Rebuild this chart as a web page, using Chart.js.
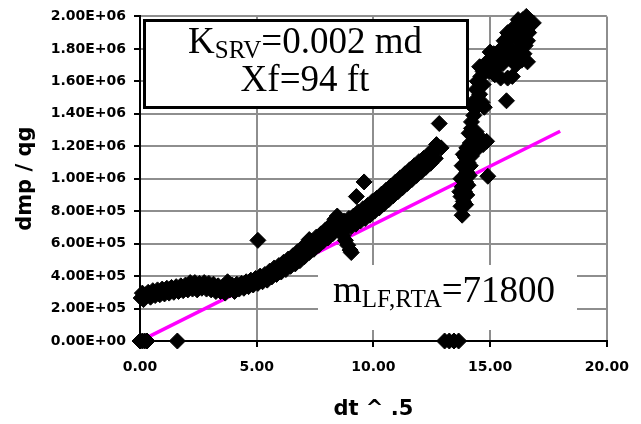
<!DOCTYPE html>
<html>
<head>
<meta charset="utf-8">
<script src="https://cdn.jsdelivr.net/npm/chart.js@4.4.1/dist/chart.umd.min.js"></script>
<style>
  html, body { margin: 0; padding: 0; background: #fff; }
  #wrap { width: 641px; height: 424px; }
</style>
</head>
<body>
<div id="wrap"><canvas id="plot" width="641" height="424"></canvas></div>
<script>
// main band of the data (dt^.5 vs dmp/qg)
var bandX = [0.05,0.1,0.15,0.25,0.35,0.45,0.55,0.65,0.75,0.85,0.95,1.05,1.15,1.25,1.35,1.45,1.55,1.65,1.75,1.85,1.95,2.05,2.15,2.25,2.35,2.45,2.55,2.65,2.75,2.85,2.95,3.05,3.15,3.25,3.35,3.45,3.55,3.65,3.75,3.85,3.95,4.05,4.15,4.25,4.35,4.45,4.55,4.65,4.75,4.85,4.95,5.05,
  5.15,5.25,5.35,5.45,5.55,5.65,5.75,5.85,5.95,6.05,6.15,6.25,6.35,6.45,6.55,6.65,6.75,6.85,6.95,7.05,7.15,7.25,7.35,7.45,7.55,7.65,7.75,7.85,7.95,8.05,8.15,8.25,8.35,8.45,7.25,8.45,8.35,
  8.6,8.7,8.8,8.9,9.0,9.05,
  8.55,8.65,8.75,8.85,8.95,9.05,9.15,9.25,9.35,9.45,9.55,9.65,9.75,9.85,9.95,10.05,10.15,10.25,10.35,10.45,10.55,10.65,10.75,10.85,10.95,11.05,11.15,11.25,11.35,11.45,11.55,11.65,11.75,11.85,11.95,12.05,12.15,12.25,12.35,12.45,12.55,12.65,12.75,12.7,12.9];
var bandY = [265000,295000,255000,285000,300000,270000,310000,280000,315000,285000,320000,290000,325000,295000,330000,300000,335000,305000,340000,310000,345000,315000,360000,320000,360000,315000,355000,325000,360000,320000,355000,315000,350000,305000,340000,305000,335000,295000,365000,315000,345000,305000,350000,320000,355000,325000,365000,335000,375000,345000,385000,355000,
  400000,365000,410000,375000,430000,395000,450000,410000,465000,425000,485000,440000,505000,460000,525000,475000,550000,495000,575000,520000,595000,545000,615000,565000,640000,590000,660000,615000,685000,635000,710000,660000,740000,695000,625000,770000,750000,
  680000,650000,620000,590000,560000,545000,
  730000,685000,740000,695000,755000,705000,770000,720000,795000,740000,815000,755000,835000,775000,860000,800000,880000,820000,905000,845000,930000,870000,955000,895000,980000,920000,1005000,945000,1030000,970000,1055000,995000,1080000,1020000,1105000,1045000,1125000,1070000,1150000,1095000,1170000,1125000,1190000,1210000,1190000];

// steep late branch
var steepX = [13.8,13.75,13.85,13.75,13.9,13.8,13.95,13.85,14.0,13.9,14.05,13.95,14.1,14.0,
  13.95,14.0,14.05,14.1,14.15,14.2,13.7,13.75,13.8,13.85,
  14.15,14.3,14.5,14.7,14.85,14.6,14.3,14.1,14.2,14.4,
  14.2,14.3,14.35,14.5,14.65,14.4,14.55,14.4,14.6,14.45,14.3,14.75,14.7,
  14.6,14.7,14.55,14.8,15.0,14.95,15.2,15.45,15.75,15.95,15.3,15.55,16.1,16.35,16.6,15.15,15.4,15.65,15.9,16.2,16.45,
  15.0,15.25,15.5,15.8,16.0,16.5,
  15.6,15.85,16.1,16.35,16.6,16.0,16.3,16.55,16.75,16.4,16.55,16.85,15.75,16.2,16.65,16.5,16.2];
var steepY = [775000,830000,860000,890000,920000,950000,980000,1010000,1040000,1070000,1100000,1130000,1160000,1190000,
  840000,900000,960000,1020000,1080000,1140000,920000,1000000,1080000,1150000,
  1220000,1200000,1190000,1210000,1230000,1250000,1260000,1280000,1310000,1290000,
  1350000,1390000,1430000,1450000,1470000,1490000,1520000,1550000,1570000,1600000,1460000,1440000,1580000,
  1630000,1660000,1690000,1710000,1730000,1660000,1640000,1620000,1620000,1630000,1690000,1710000,1700000,1730000,1720000,1770000,1790000,1810000,1800000,1790000,1770000,
  1780000,1720000,1760000,1750000,1760000,1820000,
  1850000,1870000,1890000,1860000,1850000,1930000,1940000,1920000,1950000,1980000,2000000,1960000,1900000,1850000,1900000,1960000,1980000];

// isolated points
var outlierX = [5.05, 9.27, 9.6, 12.82, 14.9, 15.7];
var outlierY = [620000, 890000, 980000, 1340000, 1015000, 1480000];
var zeroX = [0, 0.1, 0.2, 0.3, 1.6, 13.05, 13.25, 13.45, 13.65];
var zeroY = [0, 0, 0, 0, 0, 0, 0, 0, 0];

// linear flow line, slope 71800
var trendX = [0.4, 18];
var trendY = [28700, 1292400];

var xTickStep = 5;
var yTickStep = 200000;

function toPts(xs, ys) {
  return xs.map(function (x, i) { return { x: x, y: ys[i] }; });
}
var scatterPts = [].concat(toPts(bandX, bandY), toPts(steepX, steepY), toPts(outlierX, outlierY), toPts(zeroX, zeroY));

function sci(v) {
  var parts = v.toExponential(2).split('e');
  var e = parts[1];
  var sign = e[0] === '-' ? '-' : '+';
  var d = e.replace(/[+-]/, '');
  if (d.length < 2) d = '0' + d;
  return parts[0] + 'E' + sign + d;
}

// annotation boxes
var labelsPlugin = {
  id: 'labels',
  afterDatasetsDraw: function (chart) {
    var ctx = chart.ctx;
    ctx.save();
    // upper box
    ctx.fillStyle = '#fff';
    ctx.fillRect(144, 20, 324, 88);
    ctx.strokeStyle = '#000';
    ctx.lineWidth = 3;
    ctx.strokeRect(144.5, 20.5, 323, 87);
    drawSub(ctx, 'K', 'SRV', '=0.002 md', 305, 53, 'center');
    ctx.font = '37px "Liberation Serif"';
    ctx.textAlign = 'center';
    ctx.textBaseline = 'alphabetic';
    ctx.fillStyle = '#000';
    ctx.fillText('Xf=94 ft', 305, 91);
    // slope label
    ctx.fillStyle = '#fff';
    ctx.fillRect(318, 265, 259, 65);
    drawSub(ctx, 'm', 'LF,RTA', '=71800', 333, 302, 'left');
    ctx.restore();
  }
};

function drawSub(ctx, main, sub, rest, x, y, align) {
  var big = '37px "Liberation Serif"';
  var small = '25px "Liberation Serif"';
  ctx.textBaseline = 'alphabetic';
  ctx.textAlign = 'left';
  ctx.font = big;
  var w1 = ctx.measureText(main).width;
  var w3 = ctx.measureText(rest).width;
  ctx.font = small;
  var w2 = ctx.measureText(sub).width;
  var start = align === 'center' ? x - (w1 + w2 + w3) / 2 : x;
  ctx.fillStyle = '#000';
  ctx.font = big;
  ctx.fillText(main, start, y);
  ctx.font = small;
  ctx.fillText(sub, start + w1, y + 5);
  ctx.font = big;
  ctx.fillText(rest, start + w1 + w2, y);
}

var tickFont = { family: 'DejaVu Sans', size: 14, weight: 'bold' };
var titleFont = { family: 'DejaVu Sans', size: 21, weight: 'bold' };

new Chart(document.getElementById('plot').getContext('2d'), {
  type: 'scatter',
  data: {
    datasets: [{
      label: 'data',
      data: scatterPts,
      pointStyle: 'rectRot',
      pointRadius: 8,
      backgroundColor: '#000',
      borderColor: '#000',
      borderWidth: 1,
      clip: false
    }, {
      label: 'trend',
      data: toPts(trendX, trendY),
      showLine: true,
      borderColor: '#FF00FF',
      borderWidth: 3.5,
      pointRadius: 0
    }]
  },
  options: {
    responsive: false,
    animation: false,
    layout: { padding: { left: 0, right: 34, top: 16, bottom: 0 } },
    plugins: { legend: { display: false }, tooltip: { enabled: false } },
    scales: {
      x: {
        type: 'linear',
        min: 0,
        max: 20,
        afterFit: function (s) { s.height = 83; },
        ticks: {
          stepSize: xTickStep,
          color: '#000',
          font: tickFont,
          padding: 12,
          maxRotation: 0,
          callback: function (v) { return v.toFixed(2); }
        },
        grid: { color: '#8e8e8e', lineWidth: 2, tickColor: '#000', tickLength: 6 },
        border: { color: '#000', width: 2 },
        title: { display: true, text: 'dt ^ .5', color: '#000', font: titleFont, padding: { top: 0, bottom: 2 } }
      },
      y: {
        type: 'linear',
        min: 0,
        max: 2000000,
        afterFit: function (s) { s.width = 140; },
        ticks: {
          stepSize: yTickStep,
          color: '#000',
          font: tickFont,
          padding: 8,
          callback: function (v) { return sci(v); }
        },
        grid: { color: '#8e8e8e', lineWidth: 2, tickColor: '#000', tickLength: 6 },
        border: { color: '#000', width: 2 },
        title: { display: true, text: 'dmp / qg', color: '#000', font: titleFont, padding: { top: 13, bottom: 0 } }
      }
    }
  },
  plugins: [labelsPlugin]
});
</script>
</body>
</html>
